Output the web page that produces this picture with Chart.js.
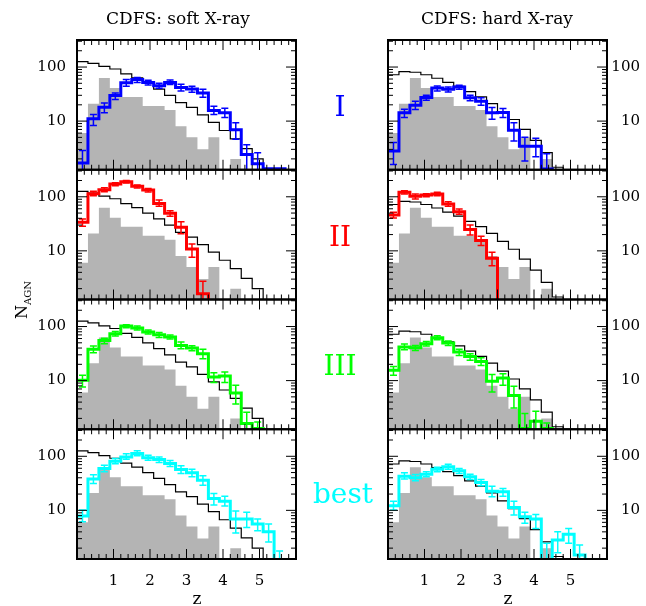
<!DOCTYPE html>
<html>
<head>
<meta charset="utf-8">
<script src="https://cdn.jsdelivr.net/npm/chart.js@4.4.1/dist/chart.umd.min.js"></script>
<style>
  body { margin: 0; background: #fff; width: 646px; height: 606px; overflow: hidden; position: relative; font-family: "DejaVu Serif", serif; color: #000; }
  canvas { position: absolute; left: 0; top: 0; }
  .lab { position: absolute; white-space: nowrap; line-height: 1; transform: translate(-50%, -50%); }
</style>
</head>
<body>
<canvas id="p00" width="646" height="606"></canvas>
<canvas id="p01" width="646" height="606"></canvas>
<canvas id="p02" width="646" height="606"></canvas>
<canvas id="p03" width="646" height="606"></canvas>
<canvas id="p10" width="646" height="606"></canvas>
<canvas id="p11" width="646" height="606"></canvas>
<canvas id="p12" width="646" height="606"></canvas>
<canvas id="p13" width="646" height="606"></canvas>

<div class="lab" style="left:178px;top:18px;font-size:17px">CDFS: soft X-ray</div>
<div class="lab" style="left:497px;top:18px;font-size:17px">CDFS: hard X-ray</div>
<div class="lab" style="left:340px;top:107px;font-size:28px;color:#0000ff">I</div>
<div class="lab" style="left:340px;top:237px;font-size:28px;color:#ff0000">II</div>
<div class="lab" style="left:340px;top:366px;font-size:28px;color:#00ff00">III</div>
<div class="lab" style="left:343px;top:494px;font-size:28px;color:#00ffff">best</div>
<div class="lab" style="left:197px;top:598px;font-size:17px">z</div>
<div class="lab" style="left:508px;top:598px;font-size:17px">z</div>
<div class="lab" style="left:22px;top:300px;font-size:16px;transform:translate(-50%,-50%) rotate(-90deg)">N<span style="font-size:10px;position:relative;top:4px">AGN</span></div>

<script>
// redshift bins (0.3 wide), edges
const zEdges = [0, 0.3, 0.6, 0.9, 1.2, 1.5, 1.8, 2.1, 2.4, 2.7, 3.0, 3.3, 3.6, 3.9, 4.2, 4.5, 4.8, 5.1, 5.4, 5.7, 6.0];
const xTickLabels = [1, 2, 3, 4, 5];
const yTickLabels = [10, 100];

// grey histograms (observed) and black model line, one per column
const softGray = [6, 21, 63, 41, 28, 28, 19, 19, 16, 8, 5, 3, 5, 1, 2];
const hardGray = [6, 21, 63, 41, 28, 28, 19, 19, 16, 8, 5, 3, 5, 1, 2];
const softModel = [126, 117, 103, 92, 75, 63, 50, 39, 30, 22, 18, 13, 9.5, 6.7, 4.7, 3.1, 2.0];
const hardModel = [72, 82, 80, 72, 62, 52, 44, 35, 28, 21, 15, 10.7, 7.0, 4.4, 2.6, 1.4];

// soft X-ray, models I, II, III, best
const softI   = [1.67, 11, 18, 29.7, 51, 58.6, 52, 45, 52, 42, 39.4, 33, 15.7, 14.2, 6.9, 2.4, 1.63, 1.31, 1.31];
const softIlo = [1, 8.3, 14.2, 25, 44, 52, 46.7, 40.5, 47.3, 36, 34.2, 27.7, 13.2, 11.6, 4.6, 1, 1, null, null];
const softIhi = [2.87, 13.2, 21.7, 33.2, 58.6, 63.8, 57, 50, 57.8, 48, 44, 38.8, 18.8, 17.3, 9.3, 3.65, 2.6, null, null];

const softII   = [33.7, 114, 135, 172, 190, 156, 133, 75.5, 49.4, 27.2, 10.8, 1.6];
const softIIlo = [28.4, 105, 124, 160, 179, 145, 122, 66.5, 43.5, 20.8, 7.6, 1];
const softIIhi = [38.8, 126, 147, 182, 201, 165, 143, 87, 55.3, 34.7, 13.4, 2.74];

const softIII   = [10.1, 37.8, 55.3, 73.5, 102, 93.5, 78.9, 70.4, 63.8, 44.8, 40, 31.4, 11.6, 12.2, 5.9, 1.6, 1.3];
const softIIIlo = [7.6, 32.7, 48, 66.5, 95, 86, 72.4, 62.9, 58.6, 38.8, 35.6, 25.4, 9.2, 9.2, 3.7, 1, 1];
const softIIIhi = [12.5, 43.5, 61, 81, 108, 102, 86, 77.8, 69.5, 52, 44, 37.8, 14, 14.4, 8.2, 2.6, 1.72];

const softBest   = [7.9, 37.8, 59.4, 81, 97.5, 112, 93.5, 87, 73.5, 57, 49.4, 36.1, 16.6, 14.8, 6.9, 6.9, 5.6, 4.0, 1.2];
const softBestlo = [6.15, 31.4, 52, 72.4, 88.3, 102, 84.7, 76.7, 64.7, 48, 41.7, 29.2, 12.5, 12, 3.8, 4.8, 4.2, 2.6, 1];
const softBesthi = [10.1, 45.4, 68.4, 90.8, 111, 126, 105, 97.5, 83.5, 66.5, 57.8, 43.5, 20.5, 18.3, 9.7, 9.2, 6.9, 5.6, 1.77];

// hard X-ray, models I, II, III, best
const hardI   = [2.8, 14.2, 19.7, 27.2, 41, 38.8, 42.9, 26.9, 23.3, 14.2, 14.4, 6.8, 3.44, 3.44, 1.3];
const hardIlo = [1.58, 11.6, 16.4, 24.3, 36.1, 34.7, 38.8, 23.7, 19.7, 10.8, 11.6, 4.3, 1.82, 2.19, 1];
const hardIhi = [4.0, 16.6, 23.3, 30, 44.8, 42.9, 46, 30, 26.9, 17.8, 17.1, 9.3, 5.0, 4.8, 2.48];

const hardII   = [46, 121, 102, 108, 112, 73.5, 53, 24.7, 15.5, 7.3];
const hardIIlo = [40.5, 112, 90.8, 100, 105, 66.5, 47.3, 19.7, 12.5, 5.3];
const hardIIhi = [52, 129, 112, 114, 121, 81, 59.4, 30, 18.6, 9.4];

const hardIII   = [15.5, 41.7, 40.5, 48, 62, 49.4, 33.7, 28, 22.6, 9.7, 11.2, 5.3, 1.3, 1.77, 1.3];
const hardIIIlo = [12.5, 37.2, 36.1, 43.5, 57, 44.8, 29.2, 23.7, 19.1, 6.15, 8.2, 3.1, 1, 1, 1.2];
const hardIIIhi = [18.3, 47.3, 44.8, 53, 67.5, 53.8, 37.8, 31.4, 26.5, 13, 13.4, 7.9, 2.45, 2.7, 1.65];

const hardBest   = [12.2, 42.9, 40, 46.7, 57.8, 63.8, 53.8, 41.7, 32.7, 22.6, 22, 11.3, 7.6, 6.9, 1.2, 2.83, 3.6, 1.5];
const hardBestlo = [10.1, 37.8, 35.2, 41.7, 51.5, 57.8, 48, 37.2, 28.4, 17.8, 18.3, 8.2, 5.8, 4.6, 1, 1.65, 2.45, 1];
const hardBesthi = [14.8, 49.4, 46, 51.5, 62.9, 71.4, 59.4, 46.7, 37.2, 28, 25.4, 14.8, 9.2, 8.4, 2.45, 4.0, 4.6, 2.28];

const Y_MIN = Math.pow(10, 0.1), Y_MAX = Math.pow(10, 2.5);
const PANEL_TOP = [40, 169.75, 299.5, 429.25], PANEL_H = 129.75;
const FONT = {family: '"DejaVu Serif", serif', size: 15};

// histogram as step points; closing edge falls off the bottom
function steps(vals) {
  const pts = vals.map((v, i) => ({x: zEdges[i], y: v}));
  pts.push({x: zEdges[vals.length], y: 1});
  return pts;
}

// error bars, inward ticks and frame
const panelDeco = {
  id: 'panelDeco',
  afterDraw(chart, args, o) {
    const {ctx, chartArea: a} = chart;
    const xs = chart.scales.x, ys = chart.scales.y;
    ctx.save();
    ctx.beginPath();
    ctx.rect(a.left, a.top, a.right - a.left, a.bottom - a.top);
    ctx.clip();
    ctx.strokeStyle = o.color;
    ctx.lineWidth = 1.5;
    o.lo.forEach((lo, i) => {
      const hi = o.hi[i];
      if (lo == null || hi == null) return;
      const cx = xs.getPixelForValue((zEdges[i] + zEdges[i + 1]) / 2);
      const y1 = ys.getPixelForValue(lo), y2 = ys.getPixelForValue(hi);
      ctx.beginPath();
      ctx.moveTo(cx, y1); ctx.lineTo(cx, y2);
      ctx.moveTo(cx - 3.5, y1); ctx.lineTo(cx + 3.5, y1);
      ctx.moveTo(cx - 3.5, y2); ctx.lineTo(cx + 3.5, y2);
      ctx.stroke();
    });
    // ticks
    ctx.strokeStyle = '#000';
    ctx.lineWidth = 1;
    ctx.beginPath();
    for (let k = 1; k < 30; k++) {
      const v = k / 5;
      const len = k % 5 === 0 ? 10 : 5;
      const px = xs.getPixelForValue(v);
      ctx.moveTo(px, a.bottom); ctx.lineTo(px, a.bottom - len);
      ctx.moveTo(px, a.top); ctx.lineTo(px, a.top + len);
    }
    [1, 10, 100].forEach(dec => {
      for (let m = 1; m <= 9; m++) {
        const v = dec * m;
        if (v < Y_MIN || v > Y_MAX) continue;
        const len = m === 1 ? 10 : 5;
        const py = ys.getPixelForValue(v);
        ctx.moveTo(a.left, py); ctx.lineTo(a.left + len, py);
        ctx.moveTo(a.right, py); ctx.lineTo(a.right - len, py);
      }
    });
    ctx.stroke();
    ctx.restore();
    ctx.save();
    ctx.strokeStyle = '#000';
    ctx.lineWidth = 2;
    ctx.strokeRect(a.left, a.top, a.right - a.left, a.bottom - a.top);
    ctx.restore();
  }
};

function panel(id, col, row, obs, model, vals, lo, hi, color) {
  const left = col === 0;
  const last = row === 3;
  const top = PANEL_TOP[row], bottom = top + PANEL_H;
  new Chart(document.getElementById(id), {
    type: 'line',
    data: {
      datasets: [
        {data: steps(vals), borderColor: color, borderWidth: 3, stepped: 'before', pointRadius: 0, fill: false, order: 0},
        {data: steps(model), borderColor: '#000', borderWidth: 1.2, stepped: 'before', pointRadius: 0, fill: false, order: 1},
        {data: steps(obs), borderColor: 'rgba(0,0,0,0)', borderWidth: 0, backgroundColor: '#b4b4b4', stepped: 'before', pointRadius: 0, fill: 'start', order: 2}
      ]
    },
    options: {
      responsive: false,
      animation: false,
      events: [],
      layout: {padding: {left: left ? 17 : 388, right: left ? 646 - 296 : 6, top: top, bottom: last ? 606 - bottom - 30 : 606 - bottom}},
      scales: {
        x: {
          type: 'linear', min: 0, max: 6, display: last,
          grid: {display: false, drawTicks: false}, border: {display: false},
          afterBuildTicks: s => { s.ticks = xTickLabels.map(v => ({value: v})); },
          afterFit: s => { s.height = last ? 30 : 0; },
          ticks: {color: '#000', font: FONT, padding: 13, autoSkip: false, maxRotation: 0, callback: v => String(v)}
        },
        y: {
          type: 'logarithmic', position: left ? 'left' : 'right', min: Y_MIN, max: Y_MAX,
          grid: {display: false, drawTicks: false}, border: {display: false},
          afterBuildTicks: s => { s.ticks = yTickLabels.map(v => ({value: v})); },
          afterFit: s => { s.width = left ? 60 : 33; },
          ticks: {color: '#000', font: FONT, padding: 11, autoSkip: false, crossAlign: left ? 'near' : 'far', callback: v => String(v)}
        }
      },
      plugins: {legend: {display: false}, tooltip: {enabled: false}, panelDeco: {color: color, lo: lo, hi: hi}}
    },
    plugins: [panelDeco]
  });
}

panel('p00', 0, 0, softGray, softModel, softI, softIlo, softIhi, '#0000ff');
panel('p01', 0, 1, softGray, softModel, softII, softIIlo, softIIhi, '#ff0000');
panel('p02', 0, 2, softGray, softModel, softIII, softIIIlo, softIIIhi, '#00ff00');
panel('p03', 0, 3, softGray, softModel, softBest, softBestlo, softBesthi, '#00ffff');
panel('p10', 1, 0, hardGray, hardModel, hardI, hardIlo, hardIhi, '#0000ff');
panel('p11', 1, 1, hardGray, hardModel, hardII, hardIIlo, hardIIhi, '#ff0000');
panel('p12', 1, 2, hardGray, hardModel, hardIII, hardIIIlo, hardIIIhi, '#00ff00');
panel('p13', 1, 3, hardGray, hardModel, hardBest, hardBestlo, hardBesthi, '#00ffff');
</script>
</body>
</html>
